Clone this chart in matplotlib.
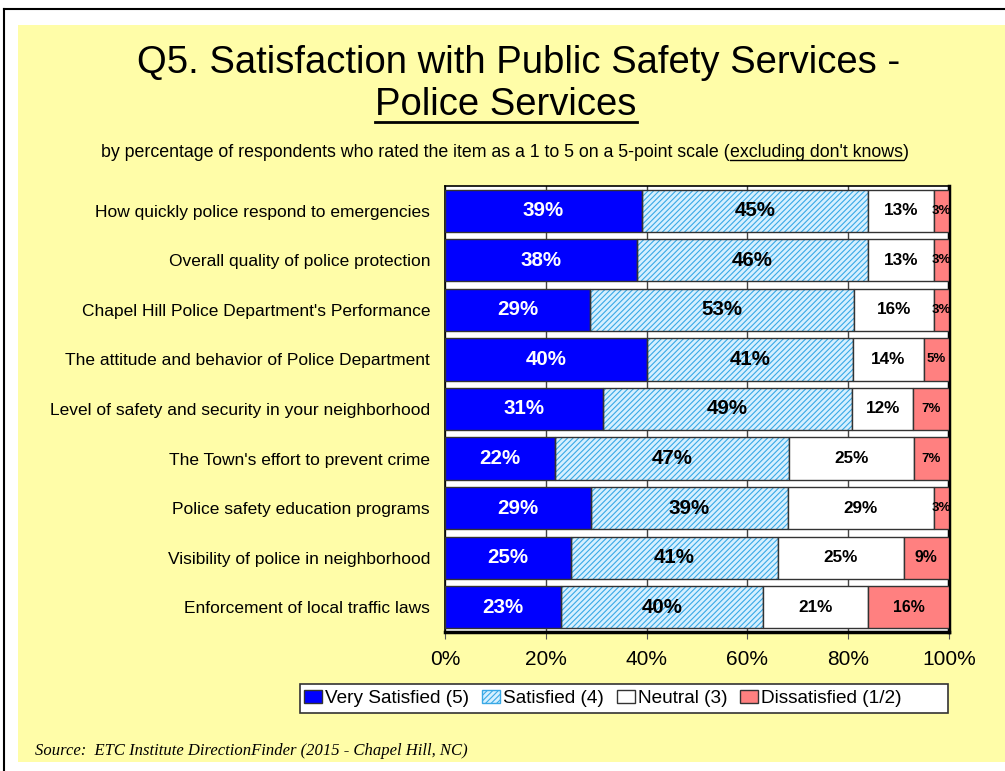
import numpy as np
import matplotlib
matplotlib.use("Agg")
import matplotlib.pyplot as plt
from matplotlib.patches import Patch, Rectangle
from matplotlib.lines import Line2D

# data
items = [
    "How quickly police respond to emergencies",
    "Overall quality of police protection",
    "Chapel Hill Police Department's Performance",
    "The attitude and behavior of Police Department",
    "Level of safety and security in your neighborhood",
    "The Town's effort to prevent crime",
    "Police safety education programs",
    "Visibility of police in neighborhood",
    "Enforcement of local traffic laws",
]
very_satisfied = [39, 38, 29, 40, 31, 22, 29, 25, 23]
satisfied = [45, 46, 53, 41, 49, 47, 39, 41, 40]
neutral = [13, 13, 16, 14, 12, 25, 29, 25, 21]
dissatisfied = [3, 3, 3, 5, 7, 7, 3, 9, 16]
series_names = ["Very Satisfied (5)", "Satisfied (4)", "Neutral (3)", "Dissatisfied (1/2)"]
xticks = [0, 20, 40, 60, 80, 100]

YELLOW = "#FFFDA8"
BLUE = "#0000FF"
LBLUE = "#D6F0FF"
HATCH = "#39A9E6"
WHITE = "#FFFFFF"
RED = "#FF8080"
EDGE = "#333333"

plt.rcParams["font.family"] = ["Liberation Sans", "DejaVu Sans"]
plt.rcParams["hatch.linewidth"] = 0.8

W, H = 1005, 771
fig = plt.figure(figsize=(W / 100, H / 100), dpi=100)
fig.patch.set_facecolor("white")


def fx(px):
    return px / W


def fy(py):
    return 1 - py / H


# yellow slide area + frame lines
fig.patches.append(Rectangle((fx(18), fy(762)), 1, (762 - 25) / H,
                             transform=fig.transFigure, facecolor=YELLOW, edgecolor="none", zorder=-5))
fig.lines.append(Line2D([fx(4), 1], [fy(9), fy(9)], transform=fig.transFigure,
                        color="black", lw=1.5))
fig.lines.append(Line2D([fx(4), fx(4)], [fy(9), 0], transform=fig.transFigure,
                        color="black", lw=1.5))

ax = fig.add_axes([fx(445), fy(632), 504 / W, 446 / H])
ax.set_facecolor("white")

data = np.array([very_satisfied, satisfied, neutral, dissatisfied], dtype=float)
shares = data / data.sum(axis=0) * 100
y = np.arange(len(items))
h = 0.85
left = np.zeros(len(items))

colors = [BLUE, LBLUE, WHITE, RED]
for i, vals in enumerate(shares):
    if i == 1:
        ax.barh(y, vals, left=left, height=h, color=LBLUE, edgecolor=HATCH,
                hatch="//////", linewidth=0, zorder=2)
        ax.barh(y, vals, left=left, height=h, color="none", edgecolor=EDGE,
                linewidth=1, zorder=3)
    else:
        ax.barh(y, vals, left=left, height=h, color=colors[i], edgecolor=EDGE,
                linewidth=1, zorder=3)
    for j in range(len(items)):
        v = int(data[i, j])
        cx = left[j] + vals[j] / 2
        if i == 0:
            ax.text(cx, y[j], f"{v}%", ha="center", va="center", color="white",
                    fontsize=14.8, fontweight="bold", zorder=5)
        elif i == 1:
            ax.text(cx, y[j], f"{v}%", ha="center", va="center", color="black",
                    fontsize=14.8, fontweight="bold", zorder=5)
        elif i == 2:
            ax.text(cx, y[j], f"{v}%", ha="center", va="center", color="black",
                    fontsize=12.3, fontweight="bold", zorder=5)
        else:
            fs = 9.5 if v <= 7 else 11.4
            ax.text(cx, y[j], f"{v}%", ha="center", va="center", color="black",
                    fontsize=fs, fontweight="bold", zorder=5)
    left += vals

ax.set_xlim(0, 100)
ax.set_ylim(len(items) - 0.5, -0.5)
ax.set_yticks(y)
ax.set_yticklabels(items, fontsize=12.5)
ax.tick_params(axis="y", length=0, pad=10.8)
ax.set_xticks(xticks)
ax.set_xticklabels([f"{t}%" for t in xticks], fontsize=15)
ax.tick_params(axis="x", direction="out", length=5, pad=8, color="#555555")
ax.grid(axis="x", color="#444444", lw=1, zorder=1)
ax.set_axisbelow(True)
for s in ax.spines.values():
    s.set_color("black")
    s.set_linewidth(1.2)
ax.spines["right"].set_linewidth(2.5)
ax.spines["bottom"].set_linewidth(2.5)

# legend: box drawn separately, wider than its content
fig.patches.append(Rectangle((fx(300), fy(713)), (948 - 300) / W, 29 / H,
                             transform=fig.transFigure, facecolor="white", edgecolor="#333333",
                             lw=1.2, zorder=1))
handles = [
    Patch(facecolor=BLUE, edgecolor=EDGE, label=series_names[0]),
    Patch(facecolor=LBLUE, edgecolor=HATCH, hatch="//////", label=series_names[1]),
    Patch(facecolor=WHITE, edgecolor=EDGE, label=series_names[2]),
    Patch(facecolor=RED, edgecolor=EDGE, label=series_names[3]),
]
leg = fig.legend(handles=handles, loc="center", bbox_to_anchor=(fx(603), fy(698.5)),
                 ncol=4, fontsize=13.7, frameon=False, borderpad=0.2,
                 handlelength=0.95, handleheight=0.7, handletextpad=0.15, columnspacing=0.68)
leg.set_zorder(2)

# titles
fig.text(fx(519), fy(73), "Q5. Satisfaction with Public Safety Services -",
         ha="center", va="baseline", fontsize=27.5)
t2 = fig.text(fx(506), fy(115), "Police Services", ha="center", va="baseline", fontsize=27.5)
fig.canvas.draw()
r = fig.canvas.get_renderer()
bb = t2.get_window_extent(r)
fig.lines.append(Line2D([fx(bb.x0), fx(bb.x1)], [fy(122), fy(122)],
                        transform=fig.transFigure, color="black", lw=2))

# subtitle with underlined part
parts = ["by percentage of respondents who rated the item as a 1 to 5 on a 5-point scale (",
         "excluding don't knows", ")"]
sub_y = fy(157)
tmp = [fig.text(0, sub_y, s, fontsize=12.8, va="baseline") for s in parts]
fig.canvas.draw()
widths = [t.get_window_extent(r).width for t in tmp]
x0 = 505 - sum(widths) / 2
for t, w in zip(tmp, widths):
    t.set_x(fx(x0))
    if t.get_text() == parts[1]:
        fig.lines.append(Line2D([fx(x0), fx(x0 + w)], [sub_y - 3 / H, sub_y - 3 / H],
                                transform=fig.transFigure, color="black", lw=1))
    x0 += w

fig.text(fx(35), fy(755), "Source:  ETC Institute DirectionFinder (2015 - Chapel Hill, NC)",
         fontsize=12, style="italic", family="Liberation Serif", va="baseline")

fig.savefig("out.png", dpi=100)
